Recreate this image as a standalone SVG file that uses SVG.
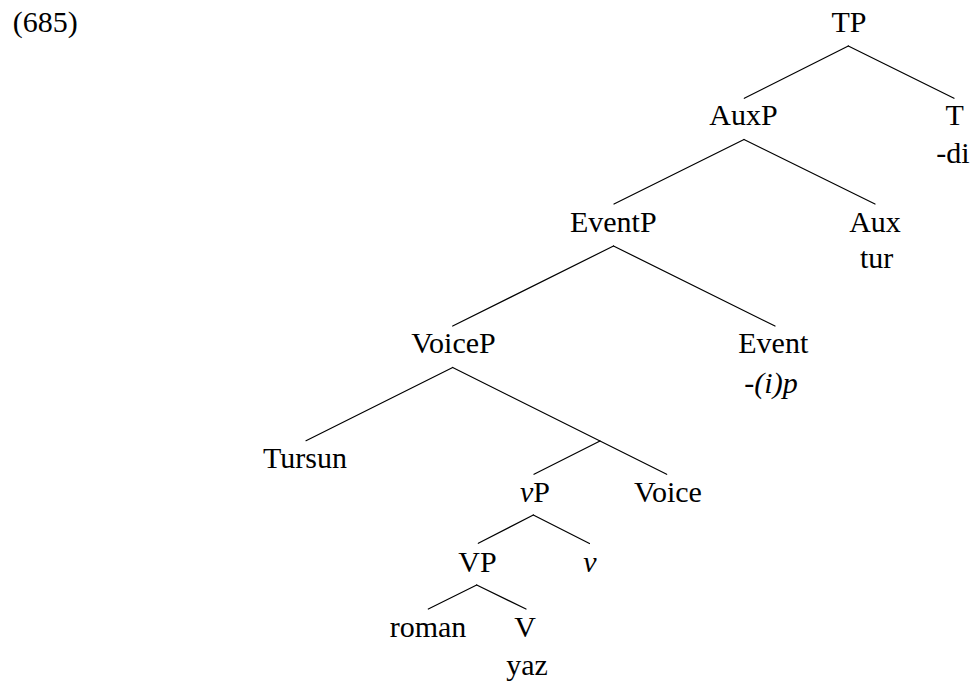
<svg xmlns="http://www.w3.org/2000/svg" width="973" height="681" viewBox="0 0 973 681">
<style>
text{font-family:"Liberation Serif","Noto Serif","Nimbus Roman","FreeSerif","DejaVu Serif",Georgia,Times,serif;font-size:30px;fill:#000;text-anchor:middle}
.it{font-style:italic}
.edges line{stroke:#000;stroke-width:1.2;stroke-linecap:round}
</style>
<rect width="973" height="681" fill="#fff"/>
<text x="12.7" y="32.3" style="text-anchor:start">(685)</text>
<g class="edges" id="connectors">
<line x1="848.3" y1="46" x2="744.3" y2="98.3"/>
<line x1="848.3" y1="46" x2="954" y2="98.3"/>
<line x1="744" y1="139.5" x2="614" y2="204"/>
<line x1="744" y1="139.5" x2="875" y2="204"/>
<line x1="613.5" y1="246" x2="452.7" y2="326"/>
<line x1="613.5" y1="246" x2="775" y2="326"/>
<line x1="452.7" y1="367.5" x2="306" y2="440.7"/>
<line x1="452.7" y1="367.5" x2="666.7" y2="474.3"/>
<line x1="600" y1="441" x2="534" y2="474.3"/>
<line x1="533.3" y1="515" x2="478.3" y2="543.3"/>
<line x1="533.3" y1="515" x2="589.5" y2="543.5"/>
<line x1="476.7" y1="585" x2="428.3" y2="609"/>
<line x1="476.7" y1="585" x2="526" y2="609"/>
</g>
<g id="TP"><text x="849" y="31.7">TP</text></g>
<g id="AuxP"><text x="743.5" y="125">AuxP</text></g>
<g id="T"><text x="954.7" y="125">T</text><text x="953" y="162.7">-di</text></g>
<g id="EventP"><text x="613.3" y="231.7">EventP</text></g>
<g id="Aux"><text x="875" y="231.7">Aux</text><text x="876.7" y="268.3">tur</text></g>
<g id="VoiceP"><text x="453.5" y="353.3">VoiceP</text></g>
<g id="Event"><text x="773.3" y="352.5">Event</text><text x="771" y="393.3">-<tspan class="it">(i)p</tspan></text></g>
<g id="Tursun"><text x="305" y="467.7">Tursun</text></g>
<g id="vP"><text x="535" y="501.7"><tspan class="it">v</tspan>P</text></g>
<g id="Voice"><text x="668" y="501.7">Voice</text></g>
<g id="VP"><text x="477.5" y="571.7">VP</text></g>
<g id="v"><text x="590" y="571.7" class="it">v</text></g>
<g id="roman"><text x="428" y="636.7">roman</text></g>
<g id="V"><text x="525" y="636.7">V</text><text x="527" y="675">yaz</text></g>
</svg>
